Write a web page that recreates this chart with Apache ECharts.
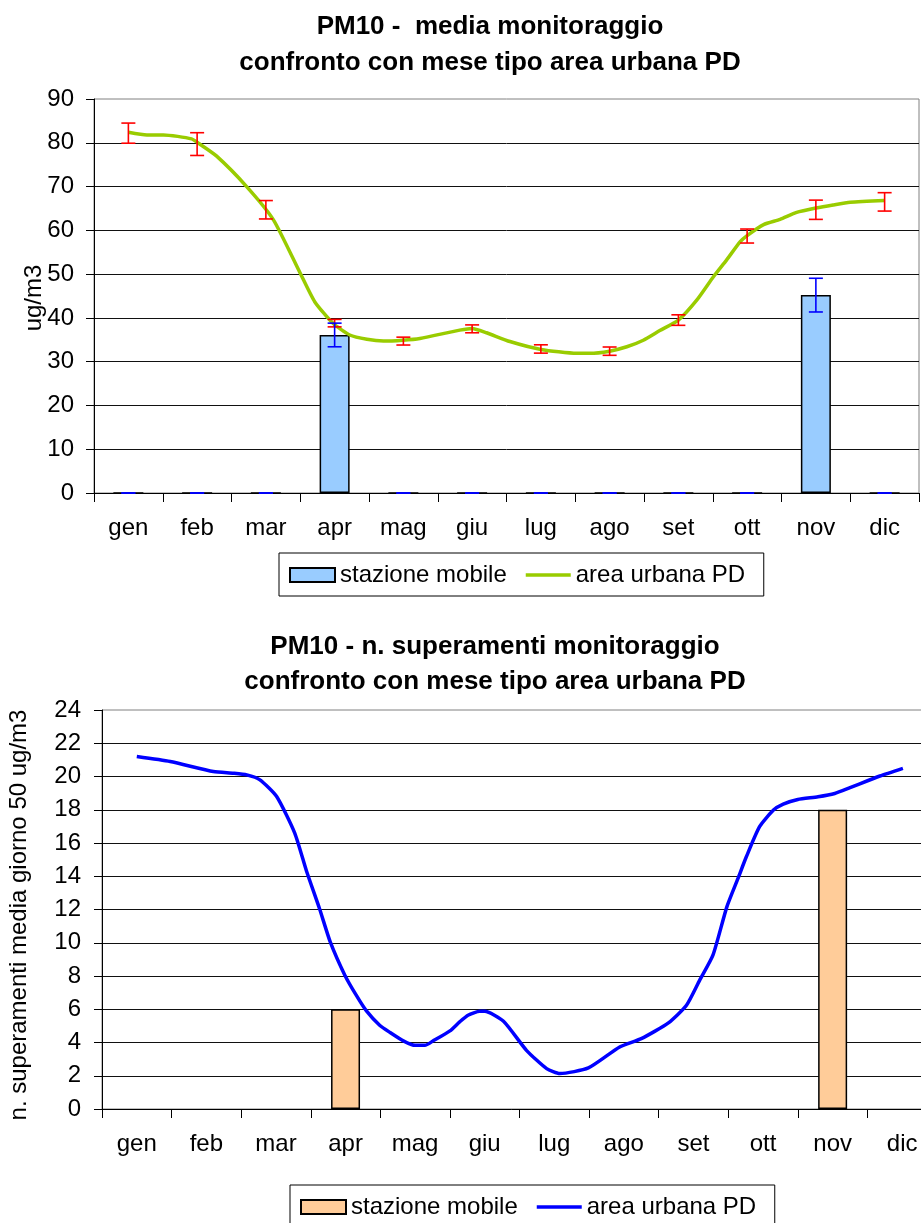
<!DOCTYPE html>
<html><head><meta charset="utf-8">
<script src="https://cdn.jsdelivr.net/npm/echarts@6/dist/echarts.min.js"></script>
<style>html,body{margin:0;padding:0;background:#fff}#c{width:921px;height:1223px}</style>
</head><body><div id="c"></div>
<script>
const FONT = 'Arial, "Liberation Sans", sans-serif';
const months = ['gen','feb','mar','apr','mag','giu','lug','ago','set','ott','nov','dic'];

// Chart 1: PM10 media (ug/m3)
const stazioneMedia    = [0,0,0,36.1,0,0,0,0,0,0,45.2,0];
const stazioneMediaErr = [0,0,0,2.7,0,0,0,0,0,0,3.85,0];
const areaMediaMese    = [82.2,79.7,64.7,38.8,34.7,37.5,32.9,32.4,39.5,58.7,64.7,66.5];
const areaMediaErr     = [2.3,2.6,2.1,0.85,0.9,0.9,0.95,0.95,1.2,1.6,2.2,2.1];
// curve points: [month position (gen=0), value]
const areaMediaCurve = [
  [0,82.4],[0.27,81.8],[0.51,81.8],[0.92,80.9],[1.02,79.9],[1.28,77.0],[1.72,70.0],
  [2.11,62.4],[2.5,50.2],[2.71,43.7],[2.98,38.7],[3.22,36.1],[3.47,35.1],[3.71,34.7],
  [3.99,34.9],[4.24,35.3],[4.82,37.2],[5.0,37.6],[5.21,36.6],[5.55,34.6],[6.0,32.8],
  [6.52,31.9],[6.71,31.9],[7.0,32.4],[7.25,33.4],[7.49,34.9],[7.73,37.1],[8.0,39.5],
  [8.27,44.1],[8.51,49.4],[8.7,53.2],[8.9,57.4],[9.0,58.8],[9.24,61.3],[9.48,62.5],
  [9.72,64.1],[10.0,65.1],[10.25,65.8],[10.5,66.4],[11.0,66.8]
];

// Chart 2: n. superamenti
const stazioneSuper = [null,null,null,6,null,null,null,null,null,null,18,null];
const areaSuperCurve = [
  [0,21.2],[0.48,20.9],[1.1,20.3],[1.39,20.2],[1.58,20.1],[1.77,19.8],[2.01,18.8],
  [2.27,16.6],[2.44,14.3],[2.63,12.0],[2.78,10.05],[2.99,8.05],[3.16,6.8],[3.3,5.9],
  [3.49,5.04],[3.64,4.6],[3.83,4.1],[4.0,3.83],[4.14,3.83],[4.26,4.1],[4.5,4.7],
  [4.64,5.24],[4.76,5.64],[4.93,5.88],[5.0,5.88],[5.27,5.28],[5.6,3.53],[5.89,2.43],
  [6.08,2.13],[6.49,2.47],[6.94,3.73],[7.25,4.23],[7.64,5.18],[7.9,6.24],[8.09,7.75],
  [8.28,9.25],[8.48,12.16],[8.64,13.87],[8.76,15.17],[8.95,16.98],[9.15,17.98],
  [9.29,18.34],[9.5,18.62],[9.79,18.78],[10.03,18.98],[10.25,19.33],[10.68,20.03],[11.01,20.49]
];

function errBar(color){
  return function(params, api){
    const x = api.value(0), y = api.value(1), e = api.value(2);
    const t = api.coord([x, y + e]);
    const b = api.coord([x, y - e]);
    const hw = 7;
    const st = {stroke: color, lineWidth: 1.6};
    return {type:'group', children:[
      {type:'line', shape:{x1:t[0],y1:t[1],x2:b[0],y2:b[1]}, style:st},
      {type:'line', shape:{x1:t[0]-hw,y1:t[1],x2:t[0]+hw,y2:t[1]}, style:st},
      {type:'line', shape:{x1:b[0]-hw,y1:b[1],x2:b[0]+hw,y2:b[1]}, style:st}
    ]};
  };
}

const catAxis = (gi) => ({
  type:'category', gridIndex:gi, data:months,
  axisLine:{onZero:false, lineStyle:{color:'#000', width:1}},
  axisTick:{show:true, length:9, lineStyle:{color:'#000'}},
  axisLabel:{color:'#000', fontSize:24, fontFamily:FONT, margin:23},
  splitLine:{show:false}
});
const valAxis = (gi, max, interval, margin) => ({
  type:'value', gridIndex:gi, min:0, max:max, interval:interval,
  axisLine:{show:true, onZero:false, lineStyle:{color:'#000', width:1}},
  axisTick:{show:true, length:8, lineStyle:{color:'#000'}},
  axisLabel:{color:'#000', fontSize:24, fontFamily:FONT, margin:margin},
  splitLine:{show:true, showMinLine:false, showMaxLine:false, lineStyle:{color:'#111', width:1}}
});

const legendCommon = {
  orient:'horizontal', itemWidth:45, itemHeight:14, itemGap:11,
  padding:[10,15,9,10], borderColor:'#000', borderWidth:1, backgroundColor:'#fff',
  selectedMode:false,
  textStyle:{fontSize:24, color:'#000', fontFamily:FONT, width:173, lineHeight:24}
};

const txt = (x, y, text, size, bold, rot) => ({
  type:'text', x:x, y:y, rotation: rot || 0,
  style:{text:text, fill:'#000', font:(bold?'bold ':'') + size + 'px ' + FONT,
         textAlign:'center', textVerticalAlign:'middle'}
});

const option = {
  animation:false,
  backgroundColor:'#fff',
  grid:[
    {left:94, top:99, width:825, height:394, outerBoundsMode:'none', containLabel:false,
     show:true, borderColor:'#808080', borderWidth:1, backgroundColor:'transparent'},
    {left:102, top:710, width:835, height:399, outerBoundsMode:'none', containLabel:false,
     show:true, borderColor:'#808080', borderWidth:1, backgroundColor:'transparent'}
  ],
  xAxis:[
    catAxis(0),
    {type:'value', gridIndex:0, min:-0.5, max:11.5, show:false},
    catAxis(1),
    {type:'value', gridIndex:1, min:-0.5, max:11.5, show:false}
  ],
  yAxis:[ valAxis(0, 90, 10, 20), valAxis(1, 24, 2, 21) ],
  legend:[
    Object.assign({}, legendCommon, {left:279, top:553,
      data:[{name:'stazione mobile', icon:'rect'},
            {name:'area urbana PD', itemStyle:{opacity:0}, lineStyle:{width:3.5, color:'#99CC00'}}]}),
    Object.assign({}, legendCommon, {left:290, top:1185,
      data:[{name:'stazione mobile ', icon:'rect'},
            {name:'area urbana PD ', itemStyle:{opacity:0}, lineStyle:{width:3.5, color:'#0000FF'}}],
      formatter: n => n.trim()})
  ],
  graphic:[
    txt(490, 27, 'PM10 -  media monitoraggio', 26, true),
    txt(490, 63, 'confronto con mese tipo area urbana PD', 26, true),
    txt(495, 647, 'PM10 - n. superamenti monitoraggio', 26, true),
    txt(495, 682, 'confronto con mese tipo area urbana PD', 26, true),
    txt(34, 298, 'ug/m3', 24, false, Math.PI/2),
    txt(19, 915, 'n. superamenti media giorno 50 ug/m3', 24, false, Math.PI/2)
  ],
  series:[
    {type:'bar', name:'stazione mobile', xAxisIndex:0, yAxisIndex:0, data:stazioneMedia,
     barWidth:30, z:2, itemStyle:{color:'#99CCFF', borderColor:'#000', borderWidth:1.5}},
    {type:'line', name:'area urbana PD', xAxisIndex:1, yAxisIndex:0, data:areaMediaCurve,
     symbol:'none', smooth:0.2, z:3,
     lineStyle:{color:'#99CC00', width:3.5}, itemStyle:{color:'#99CC00'}},
    {type:'custom', name:'err area', xAxisIndex:0, yAxisIndex:0, z:4,
     renderItem: errBar('#FF0000'),
     data: months.map((m,i)=>[i, areaMediaMese[i], areaMediaErr[i]])},
    {type:'custom', name:'err stazione', xAxisIndex:0, yAxisIndex:0, z:5,
     renderItem: errBar('#0000FF'),
     data: months.map((m,i)=>[i, stazioneMedia[i], stazioneMediaErr[i]])},
    {type:'bar', name:'stazione mobile ', xAxisIndex:2, yAxisIndex:1, data:stazioneSuper,
     barWidth:29, z:2, itemStyle:{color:'#FFCC99', borderColor:'#000', borderWidth:1.5}},
    {type:'line', name:'area urbana PD ', xAxisIndex:3, yAxisIndex:1, data:areaSuperCurve,
     symbol:'none', smooth:0.2, z:3,
     lineStyle:{color:'#0000FF', width:3.5}, itemStyle:{color:'#0000FF'}}
  ]
};
const chart = echarts.init(document.getElementById('c'), null, {renderer:'canvas'});
chart.setOption(option);
</script>
</body></html>
